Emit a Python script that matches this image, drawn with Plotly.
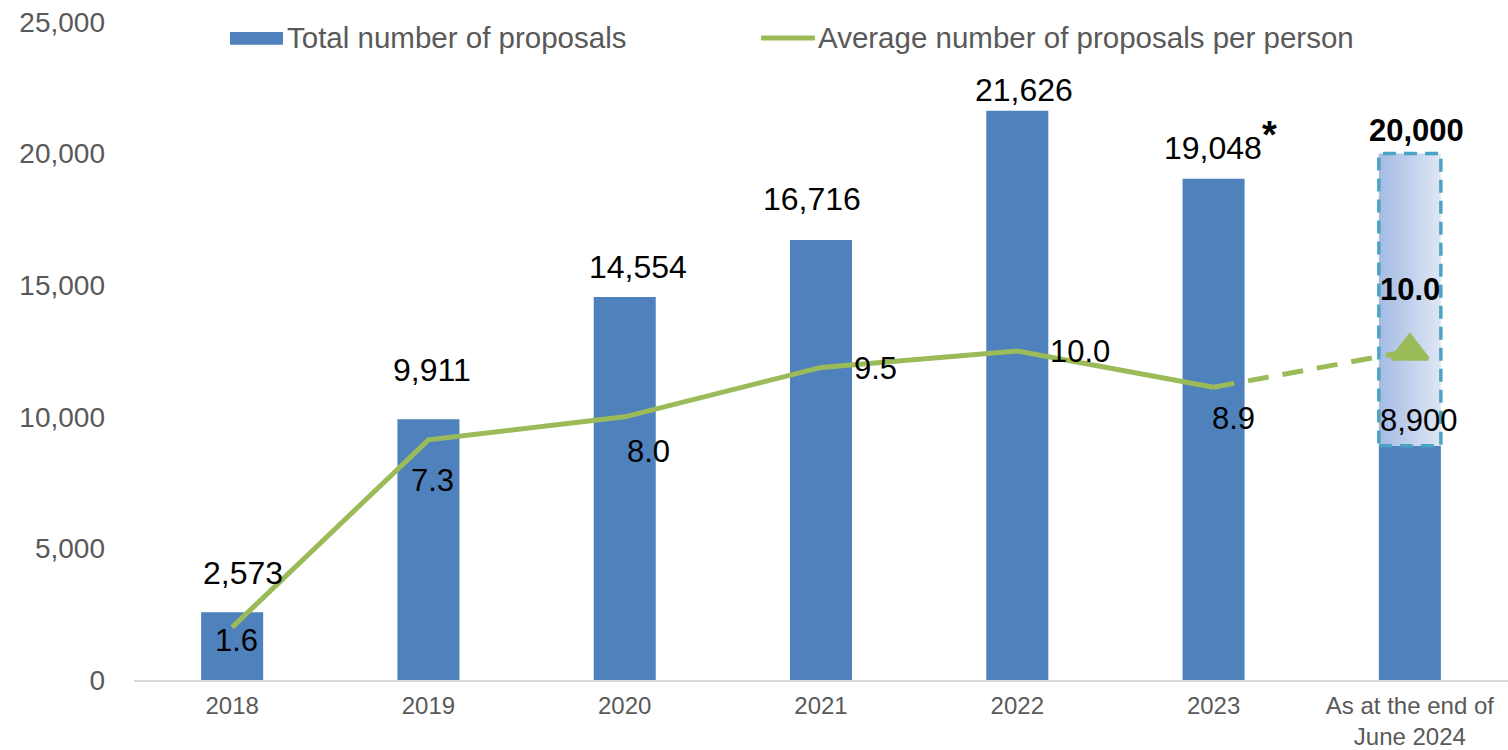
import plotly.graph_objects as go

# ---- data ----
categories = ["2018", "2019", "2020", "2021", "2022", "2023", "As at the end of<br>June 2024"]
total_proposals = [2573, 9911, 14554, 16716, 21626, 19048, 8900]
target_total = 20000
avg_per_person = [1.6, 7.3, 8.0, 9.5, 10.0, 8.9]
target_avg = 10.0
y_ticks = [0, 5000, 10000, 15000, 20000, 25000]

# ---- style ----
FONT = "Liberation Sans, Arial, sans-serif"
BLUE = "#4F81BD"
GREEN = "#9BBB59"
GREY = "#595959"
BAR_W = 0.316
W, H = 1508, 750
L, R, T, B = 134, 0, 22, 66
# label pixel offsets (style only)
bar_label_shift = [(11, 39), (4, 49), (13, 30), (-9, 41), (7, 21), (-1, 31)]
line_label_shift = [(4, -13), (4, -41), (24, -35), (54, -1), (63, 0), (20, -31)]

x = list(range(len(categories)))
fig = go.Figure()

fig.add_trace(go.Bar(x=x, y=total_proposals, width=BAR_W, marker=dict(color=BLUE, line_width=0),
                     hoverinfo="skip", showlegend=False))

# target box on top of the last bar
xi = x[-1]
fig.add_trace(go.Scatter(
    x=[xi - BAR_W / 2, xi + BAR_W / 2, xi + BAR_W / 2, xi - BAR_W / 2, xi - BAR_W / 2],
    y=[total_proposals[-1], total_proposals[-1], target_total, target_total, total_proposals[-1]],
    mode="lines", fill="toself",
    fillgradient=dict(type="horizontal", colorscale=[[0, "#A4BBE4"], [1, "#DEE6F4"]]),
    line=dict(color="#4BA3C3", width=3.5, dash="13px,8px"),
    hoverinfo="skip", showlegend=False))

n = len(avg_per_person)
fig.add_trace(go.Scatter(x=x[:n], y=avg_per_person, yaxis="y2", mode="lines",
                         line=dict(color=GREEN, width=5), hoverinfo="skip", showlegend=False))
fig.add_trace(go.Scatter(x=[x[n - 1], x[-1]], y=[avg_per_person[-1], target_avg], yaxis="y2",
                         mode="lines", line=dict(color=GREEN, width=5, dash="21px,14px"),
                         hoverinfo="skip", showlegend=False))
fig.add_trace(go.Scatter(x=[x[-1]], y=[target_avg], yaxis="y2", mode="markers",
                         marker=dict(symbol="triangle-up", size=31, color=GREEN, opacity=1,
                                     line=dict(width=4, color=GREEN)),
                         hoverinfo="skip", showlegend=False))

ann = []
for i, v in enumerate(total_proposals[:-1]):
    dx, dy = bar_label_shift[i]
    ann.append(dict(x=x[i], y=v, xref="x", yref="y", text=f"{v:,}", showarrow=False,
                    xshift=dx, yshift=dy, font=dict(size=32, color="black", family=FONT)))
ann.append(dict(x=x[5], y=total_proposals[5], xref="x", yref="y", text="<b>*</b>", showarrow=False,
                xshift=56, yshift=44, font=dict(size=38, color="black", family=FONT)))
ann.append(dict(x=x[-1], y=target_total, xref="x", yref="y", text=f"<b>{target_total:,}</b>",
                showarrow=False, yshift=23, xshift=7, font=dict(size=31, color="black", family=FONT)))
ann.append(dict(x=x[-1], y=total_proposals[-1], xref="x", yref="y", text=f"{total_proposals[-1]:,}",
                showarrow=False, yshift=25, xshift=9, font=dict(size=31, color="black", family=FONT)))
for i, v in enumerate(avg_per_person):
    dx, dy = line_label_shift[i]
    ann.append(dict(x=x[i], y=v, xref="x", yref="y2", text=f"{v:.1f}", showarrow=False,
                    xshift=dx, yshift=dy, font=dict(size=31, color="black", family=FONT)))
ann.append(dict(x=x[-1], y=target_avg, xref="x", yref="y2", text=f"<b>{target_avg:.1f}</b>",
                showarrow=False, yshift=62, font=dict(size=31, color="black", family=FONT)))

# manual legend (pixel -> paper)
pw, ph = W - L - R, H - T - B
def px(v):
    return (v - L) / pw
def py(v):
    return (H - B - v) / ph

shapes = [
    dict(type="rect", xref="paper", yref="paper", x0=px(230), x1=px(283), y0=py(45), y1=py(32),
         fillcolor=BLUE, line_width=0),
    dict(type="line", xref="paper", yref="paper", x0=px(761), x1=px(815), y0=py(38), y1=py(38),
         line=dict(color=GREEN, width=5)),
]
ann.append(dict(x=px(285), y=py(38), xref="paper", yref="paper", text="Total number of proposals",
                showarrow=False, xanchor="left", yanchor="middle",
                font=dict(size=29.5, color=GREY, family=FONT)))
ann.append(dict(x=px(816), y=py(38), xref="paper", yref="paper",
                text="Average number of proposals per person", showarrow=False, xanchor="left",
                yanchor="middle", font=dict(size=29.5, color=GREY, family=FONT)))

fig.update_layout(
    width=W, height=H, margin=dict(l=L, r=R, t=T, b=B),
    paper_bgcolor="white", plot_bgcolor="white",
    font=dict(family=FONT, color=GREY),
    showlegend=False,
    xaxis=dict(tickvals=x, ticktext=categories, range=[-0.5, len(x) - 0.5],
               showgrid=False, zeroline=False, showline=True, linecolor="#D9D9D9", linewidth=1.5,
               ticks="", ticklabelstandoff=3, tickfont=dict(size=24, color=GREY, family=FONT)),
    yaxis=dict(range=[0, 25000], tickvals=y_ticks, tickformat=",", showgrid=False, zeroline=False,
               showline=False, ticks="", ticklabelstandoff=28,
               tickfont=dict(size=28, color=GREY, family=FONT)),
    yaxis2=dict(range=[0, 20], overlaying="y", visible=False),
    annotations=ann, shapes=shapes,
)

fig.write_html("out.html", config={"displayModeBar": False},
               post_script="document.body.style.margin='0';document.body.style.overflow='hidden';")
